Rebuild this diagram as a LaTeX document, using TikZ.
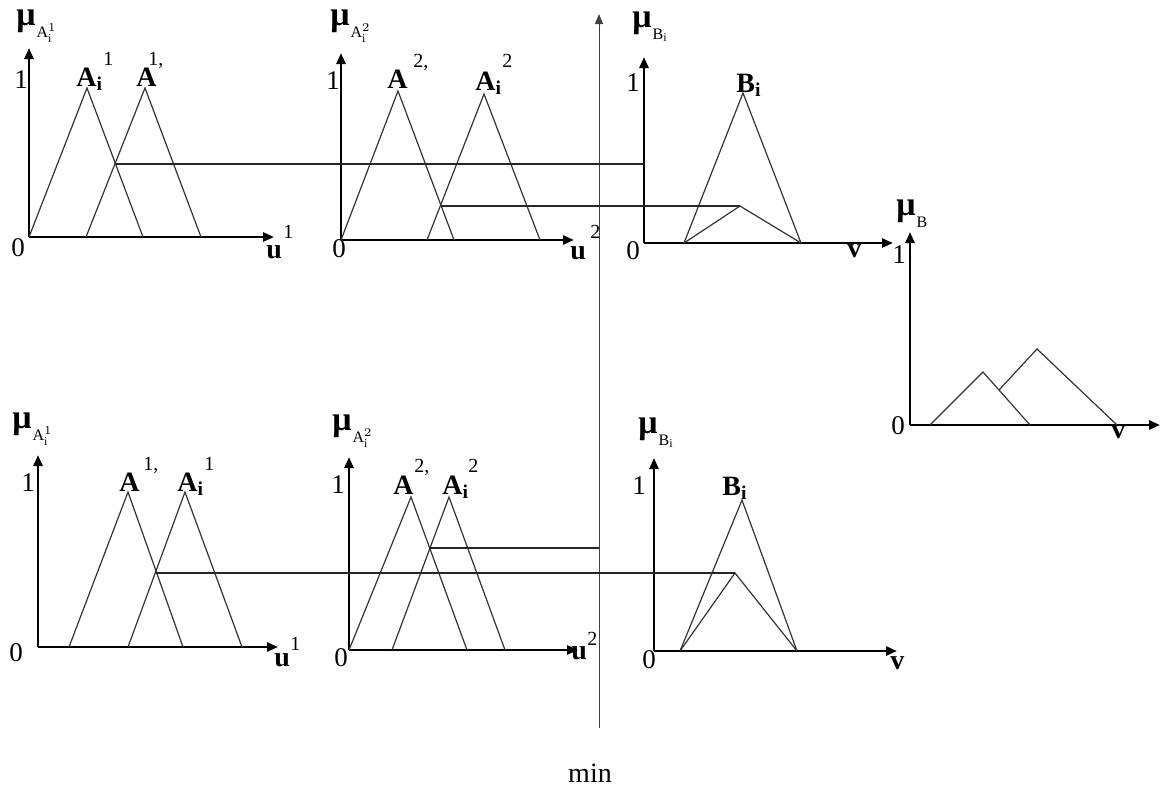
\documentclass[tikz,border=0pt]{standalone}
\usepackage{fontspec}
\setmainfont{Liberation Serif}
\usetikzlibrary{arrows.meta}
\newcommand{\mulab}[1]{\textbf{μ}\kern0.5pt\raisebox{-6pt}{\fontsize{8}{9}\selectfont$#1$}}

\begin{document}
\begin{tikzpicture}[x=0.5pt, y=-0.5pt,
    axis/.style={line width=1.3pt, -{Triangle[length=5.5pt, width=4.5pt]}},
    minaxis/.style={line width=0.5pt, black!75, -{Triangle[length=5pt, width=4pt]}},
    memb/.style={line width=0.6pt, black!80},
    cutline/.style={line width=0.6pt, black!85},
    lbl/.style={inner sep=0pt, anchor=base west, font=\fontsize{13.5}{15}\selectfont},
    setlbl/.style={lbl, font=\fontsize{14}{16}\selectfont\bfseries},
    suplbl/.style={lbl, font=\fontsize{10}{11}\selectfont},
    mulbl/.style={lbl, font=\fontsize{17}{19}\selectfont}
]
    \useasboundingbox (0,0) rectangle (1171,788);

    % min line
    \coordinate (minbot) at (599,728);
    \coordinate (mintop) at (599,14);
    \draw[minaxis] (minbot) -- (mintop);
    \node[lbl, anchor=base, font=\fontsize{14}{16}\selectfont] (minlbl) at (590,782) {min};

    % top row: first input
    \coordinate (ta) at (29,237);
    \draw[axis] (ta) -- (29,48);
    \draw[axis] (ta) -- (274,237);
    \draw[memb] (ta) -- (87,88) -- (143,237);
    \draw[memb] (86,237) -- (145,88) -- (201,237);
    \node[mulbl] (ta-mu) at (16,25) {\mulab{\mathrm{A}_{\mathrm i}^{1}}};
    \node[lbl] (ta-one) at (14,88) {1};
    \node[lbl] (ta-zero) at (11,256) {0};
    \node[setlbl] (ta-ai) at (76,86) {A\textsubscript{i}};
    \node[suplbl] (ta-ais) at (103,65) {1};
    \node[setlbl] (ta-a) at (136,86) {A};
    \node[suplbl] (ta-as) at (148,65) {1,};
    \node[setlbl] (ta-u) at (266,258) {u};
    \node[suplbl] (ta-us) at (283,238) {1};

    % top row: second input
    \coordinate (tb) at (341,240);
    \draw[axis] (tb) -- (341,53);
    \draw[axis] (tb) -- (574,240);
    \draw[memb] (tb) -- (398,91) -- (454,240);
    \draw[memb] (427,240) -- (484,94) -- (540,240);
    \node[mulbl] (tb-mu) at (330,25) {\mulab{\mathrm{A}_{\mathrm i}^{2}}};
    \node[lbl] (tb-one) at (326,89) {1};
    \node[lbl] (tb-zero) at (332,257) {0};
    \node[setlbl] (tb-a) at (387,88) {A};
    \node[suplbl] (tb-as) at (413,67) {2,};
    \node[setlbl] (tb-ai) at (475,90) {A\textsubscript{i}};
    \node[suplbl] (tb-ais) at (502,67) {2};
    \node[setlbl] (tb-u) at (570,259) {u};
    \node[suplbl] (tb-us) at (590,238) {2};

    % top row: consequent
    \coordinate (tc) at (644,243);
    \draw[axis] (tc) -- (644,57);
    \draw[axis] (tc) -- (893,243);
    \draw[memb] (684,243) -- (743,93) -- (801,243);
    \draw[memb] (684,243) -- (740,206) -- (801,243);
    \node[mulbl] (tc-mu) at (632,27) {\mulab{\mathrm{B}_{\mathrm i}}};
    \node[lbl] (tc-one) at (626,91) {1};
    \node[lbl] (tc-zero) at (626,259) {0};
    \node[setlbl] (tc-b) at (736,92) {B\textsubscript{i}};
    \node[setlbl] (tc-v) at (847,257) {v};

    % top row: firing levels
    \draw[cutline] (115,164) -- (tc |- 0,164);
    \draw[cutline] (441,206) -- (740,206);

    % aggregated output
    \coordinate (ag) at (910,425);
    \draw[axis] (ag) -- (910,232);
    \draw[axis] (ag) -- (1160,425);
    \draw[memb] (930,425) -- (983,372) -- (1030,425);
    \draw[memb] (999,390) -- (1037,349) -- (1117,425);
    \node[mulbl] (ag-mu) at (896,215) {\mulab{\mathrm{B}}};
    \node[lbl] (ag-one) at (892,263) {1};
    \node[lbl] (ag-zero) at (891,434) {0};
    \node[setlbl] (ag-v) at (1111,438) {v};

    % bottom row: first input
    \coordinate (ba) at (38,647);
    \draw[axis] (ba) -- (38,455);
    \draw[axis] (ba) -- (278,647);
    \draw[memb] (69,647) -- (128,492) -- (183,647);
    \draw[memb] (128,647) -- (185,492) -- (242,647);
    \node[mulbl] (ba-mu) at (12,428) {\mulab{\mathrm{A}_{\mathrm i}^{1}}};
    \node[lbl] (ba-one) at (21,491) {1};
    \node[lbl] (ba-zero) at (9,661) {0};
    \node[setlbl] (ba-a) at (119,491) {A};
    \node[suplbl] (ba-as) at (143,470) {1,};
    \node[setlbl] (ba-ai) at (177,491) {A\textsubscript{i}};
    \node[suplbl] (ba-ais) at (204,470) {1};
    \node[setlbl] (ba-u) at (274,666) {u};
    \node[suplbl] (ba-us) at (290,650) {1};

    % bottom row: second input
    \coordinate (bb) at (349,650);
    \draw[axis] (bb) -- (349,457);
    \draw[axis] (bb) -- (578,650);
    \draw[memb] (bb) -- (411,497) -- (467,650);
    \draw[memb] (392,650) -- (449,497) -- (505,650);
    \node[mulbl] (bb-mu) at (332,430) {\mulab{\mathrm{A}_{\mathrm i}^{2}}};
    \node[lbl] (bb-one) at (331,493) {1};
    \node[lbl] (bb-zero) at (334,666) {0};
    \node[setlbl] (bb-a) at (393,494) {A};
    \node[suplbl] (bb-as) at (414,472) {2,};
    \node[setlbl] (bb-ai) at (442,494) {A\textsubscript{i}};
    \node[suplbl] (bb-ais) at (468,472) {2};
    \node[setlbl] (bb-u) at (571,659) {u};
    \node[suplbl] (bb-us) at (587,645) {2};

    % bottom row: consequent
    \coordinate (bc) at (654,651);
    \draw[axis] (bc) -- (654,458);
    \draw[axis] (bc) -- (897,651);
    \draw[memb] (680,651) -- (742,500) -- (797,651);
    \draw[memb] (680,651) -- (735,573) -- (797,651);
    \node[mulbl] (bc-mu) at (638,433) {\mulab{\mathrm{B}_{\mathrm i}}};
    \node[lbl] (bc-one) at (632,494) {1};
    \node[lbl] (bc-zero) at (642,668) {0};
    \node[setlbl] (bc-b) at (722,495) {B\textsubscript{i}};
    \node[setlbl] (bc-v) at (890,669) {v};

    % bottom row: firing levels
    \draw[cutline] (430,548) -- (minbot |- 0,548);
    \draw[cutline] (156,573) -- (735,573);
\end{tikzpicture}
\end{document}
